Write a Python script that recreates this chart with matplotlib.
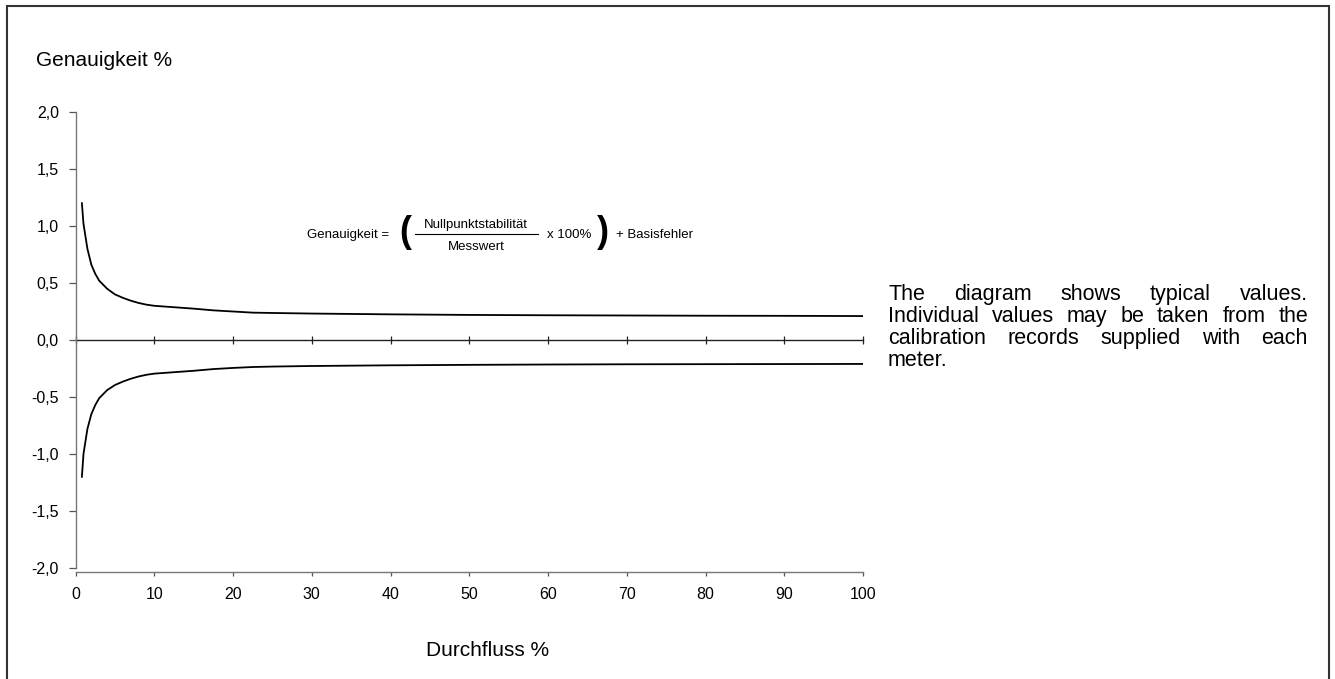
import matplotlib
matplotlib.use('Agg')
import matplotlib.pyplot as plt
from matplotlib.patches import Rectangle

plt.rcParams['font.family'] = ['Liberation Sans', 'DejaVu Sans']

# data
flow = [0.8, 1, 1.5, 2, 2.5, 3, 4, 5, 6, 7, 8, 9, 10, 12, 15, 17.5, 20, 22.5,
        25, 30, 40, 50, 60, 70, 80, 90, 100]
acc_upper = [1.20, 1.02, 0.80, 0.66, 0.58, 0.52, 0.45, 0.40, 0.37, 0.345, 0.325,
             0.31, 0.30, 0.29, 0.275, 0.26, 0.25, 0.24, 0.237, 0.232, 0.225,
             0.22, 0.217, 0.215, 0.213, 0.212, 0.21]
acc_lower = [-1.20, -1.00, -0.78, -0.65, -0.57, -0.51, -0.44, -0.395, -0.365,
             -0.34, -0.32, -0.305, -0.295, -0.285, -0.27, -0.255, -0.245, -0.237,
             -0.233, -0.228, -0.222, -0.218, -0.215, -0.213, -0.212, -0.211, -0.21]
yticks = [-2.0, -1.5, -1.0, -0.5, 0.0, 0.5, 1.0, 1.5, 2.0]
ytick_labels = ['-2,0', '-1,5', '-1,0', '-0,5', '0,0', '0,5', '1,0', '1,5', '2,0']
xticks = [0, 10, 20, 30, 40, 50, 60, 70, 80, 90, 100]
note_lines = ['The diagram shows typical values.',
              'Individual values may be taken from the',
              'calibration records supplied with each',
              'meter.']

W, H = 1335, 679
fig = plt.figure(figsize=(W / 100, H / 100), dpi=100)


def px(x, y):
    return x / W, 1 - y / H


ax = fig.add_axes([75.6 / W, 1 - 568 / H, (863 - 75.6) / W, (568 - 112) / H])
ax.plot(flow, acc_upper, color='black', lw=1.3)
ax.plot(flow, acc_lower, color='black', lw=1.3)
ax.set_xlim(0, 100)
ax.set_ylim(-2, 2)

for s in ['top', 'right']:
    ax.spines[s].set_visible(False)
ax.spines['left'].set_color('#777777')
ax.spines['bottom'].set_color('#777777')
ax.spines['left'].set_linewidth(1.0)
ax.spines['bottom'].set_linewidth(1.0)
ax.spines['bottom'].set_position(('outward', 3))

ax.set_yticks(yticks)
ax.set_yticklabels(ytick_labels)
ax.set_xticks(xticks)
ax.tick_params(axis='y', direction='out', length=5, width=0.9, color='#555555',
               pad=7, labelsize=11.5)
ax.tick_params(axis='x', direction='out', length=3, width=0.9, color='#555555',
               pad=8, labelsize=11.5)

# zero line with crossing ticks
zero = ax.secondary_xaxis(0, transform=ax.transData)
zero.set_xticks(xticks)
zero.tick_params(axis='x', direction='inout', length=6, width=0.9, color='#222222',
                 labelbottom=False, labeltop=False)
for s in zero.spines.values():
    s.set_visible(False)
zero.spines['bottom'].set_visible(True)
zero.spines['bottom'].set_color('#222222')
zero.spines['bottom'].set_linewidth(1.0)

fig.text(*px(36, 66), 'Genauigkeit %', fontsize=15, va='baseline', ha='left')
fig.text(*px(488, 656), 'Durchfluss %', fontsize=15, va='baseline', ha='center')

# formula
fs = 9.5
fig.text(*px(307, 238), 'Genauigkeit =', fontsize=fs, va='baseline')
fig.text(*px(405, 233), '(', fontsize=26, fontweight='bold', va='center', ha='center')
fig.text(*px(476, 228), 'Nullpunktstabilität', fontsize=fs, va='baseline', ha='center')
fig.text(*px(476, 250), 'Messwert', fontsize=fs, va='baseline', ha='center')
fig.add_artist(plt.Line2D([415 / W, 538 / W], [1 - 234 / H, 1 - 234 / H],
                          color='black', lw=0.8))
fig.text(*px(547, 238), 'x 100%', fontsize=fs, va='baseline')
fig.text(*px(603, 233), ')', fontsize=26, fontweight='bold', va='center', ha='center')
fig.text(*px(616, 238), '+ Basisfehler', fontsize=fs, va='baseline')

# justified note text on the right
renderer = fig.canvas.get_renderer()
left, right = 888, 1308
baseline = 300
nfs = 15.5
for i, line in enumerate(note_lines):
    words = line.split()
    y = 1 - (baseline + 22 * i) / H
    if i == len(note_lines) - 1 or len(words) == 1:
        fig.text(left / W, y, line, fontsize=nfs, va='baseline')
        continue
    arts = [fig.text(0, y, w, fontsize=nfs, va='baseline') for w in words]
    widths = [a.get_window_extent(renderer).width for a in arts]
    gap = (right - left - sum(widths)) / (len(words) - 1)
    x = left
    for a, wd in zip(arts, widths):
        a.set_x(x / W)
        x += wd + gap

fig.add_artist(Rectangle((7 / W, -0.02), (1329 - 7) / W, 1.02 - 6 / H,
                         transform=fig.transFigure, fill=False,
                         edgecolor='#333333', lw=1.5))

fig.savefig('out.png', dpi=100)
